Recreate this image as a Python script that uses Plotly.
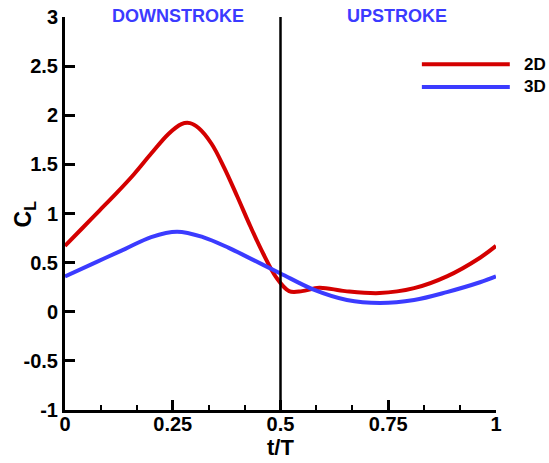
import plotly.graph_objects as go

# Lift coefficient over one flapping period
t_2d = [0, 0.04, 0.08, 0.12, 0.16, 0.20, 0.24, 0.27, 0.29, 0.31, 0.34, 0.37,
        0.40, 0.43, 0.46, 0.49, 0.52, 0.55, 0.59, 0.65, 0.73, 0.81, 0.886,
        0.963, 1.0]
cl_2d = [0.67, 0.85, 1.03, 1.21, 1.40, 1.61, 1.81, 1.91, 1.92, 1.87, 1.71, 1.46,
         1.17, 0.87, 0.59, 0.35, 0.21, 0.21, 0.245, 0.21, 0.19, 0.24, 0.36,
         0.55, 0.67]

t_3d = [0, 0.07, 0.14, 0.20, 0.26, 0.32, 0.38, 0.44, 0.5, 0.577, 0.654,
        0.731, 0.81, 0.886, 0.963, 1.0]
cl_3d = [0.36, 0.50, 0.64, 0.76, 0.815, 0.76, 0.65, 0.52, 0.39, 0.225, 0.12,
         0.09, 0.12, 0.20, 0.30, 0.36]

x_ticks = [0, 0.25, 0.5, 0.75, 1]
x_labels = ["0", "0.25", "0.5", "0.75", "1"]
y_ticks = [-1, -0.5, 0, 0.5, 1, 1.5, 2, 2.5, 3]
y_labels = ["-1", "-0.5", "0", "0.5", "1", "1.5", "2", "2.5", "3"]

RED = "#d40000"
BLUE = "#3b3bff"
FONT = "Liberation Sans, Arial, sans-serif"

fig = go.Figure()
fig.add_trace(go.Scatter(x=t_2d, y=cl_2d, mode="lines", name="2D",
                         line=dict(color=RED, width=4, shape="spline", smoothing=1.0)))
fig.add_trace(go.Scatter(x=t_3d, y=cl_3d, mode="lines", name="3D",
                         line=dict(color=BLUE, width=4, shape="spline", smoothing=1.0)))

# stroke divider at mid-period
fig.add_shape(type="line", xref="x", yref="y", x0=0.5, x1=0.5, y0=-1, y1=3,
              line=dict(color="black", width=2.5))

# legend drawn as line samples with labels
for yy, col, lab in [(0.880, RED, "2D"), (0.822, BLUE, "3D")]:
    fig.add_shape(type="line", xref="paper", yref="paper", x0=0.828, x1=1.032,
                  y0=yy, y1=yy, line=dict(color=col, width=4))
    fig.add_annotation(xref="paper", yref="paper", x=1.06, y=yy, text=f"<b>{lab}</b>",
                       showarrow=False, xanchor="left", yanchor="middle",
                       font=dict(family=FONT, size=17, color="black"))

for xx, lab in [(0.262, "DOWNSTROKE"), (0.77, "UPSTROKE")]:
    fig.add_annotation(xref="paper", yref="paper", x=xx, y=1.003, text=f"<b>{lab}</b>",
                       showarrow=False, xanchor="center", yanchor="middle",
                       font=dict(family=FONT, size=18, color=BLUE))

# y-axis title
fig.add_annotation(xref="paper", yref="paper", x=-0.093, y=0.5,
                   text="<b>C<sub>L</sub></b>", textangle=-90, showarrow=False,
                   xanchor="center", yanchor="middle",
                   font=dict(family=FONT, size=23, color="black"))

fig.update_layout(
    width=549, height=463,
    margin=dict(l=65, r=53, t=17, b=53),
    paper_bgcolor="white", plot_bgcolor="white",
    showlegend=False,
    font=dict(family=FONT, color="black"),
    xaxis=dict(range=[0, 1], tickvals=x_ticks, ticktext=[f"<b>{s}</b>" for s in x_labels],
               ticks="inside", ticklen=10, tickwidth=2.5, tickcolor="black",
               minor=dict(ticks="inside", ticklen=5, tickwidth=2, tickcolor="black",
                          dtick=1 / 12, tick0=0),
               showline=True, linecolor="black", linewidth=3, showgrid=False,
               zeroline=False, tickfont=dict(size=20), automargin=False,
               ticklabelstandoff=-6,
               title=dict(text="<b>t/T</b>", font=dict(size=22), standoff=4)),
    yaxis=dict(range=[-1, 3], tickvals=y_ticks, ticktext=[f"<b>{s}</b>" for s in y_labels],
               ticks="inside", ticklen=10, tickwidth=2.5, tickcolor="black",
               showline=True, linecolor="black", linewidth=3, showgrid=False,
               zeroline=False, tickfont=dict(size=20), automargin=False),
)

fig.write_html("out.html")
